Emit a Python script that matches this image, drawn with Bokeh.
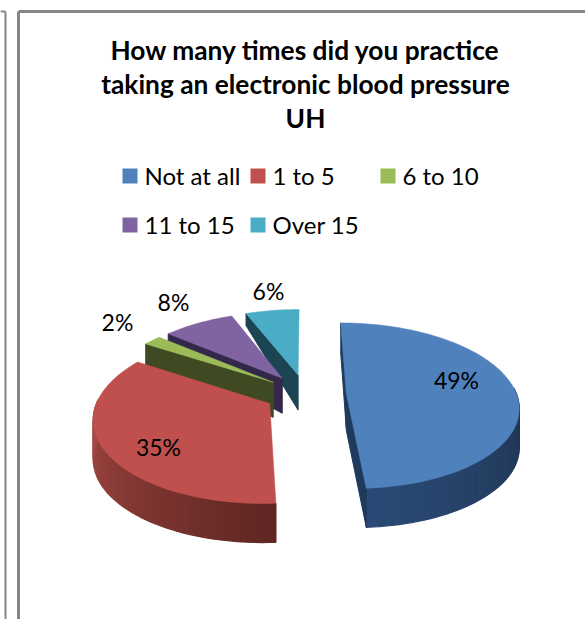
import math
from bokeh.plotting import figure
from bokeh.embed import file_html
from bokeh.resources import INLINE
from bokeh.core.properties import value

title_lines = ["How many times did you practice", "taking an electronic blood pressure", "UH"]
categories = ["Not at all", "1 to 5", "6 to 10", "11 to 15", "Over 15"]
shares = [49, 35, 2, 8, 6]
labels = ["49%", "35%", "2%", "8%", "6%"]
top_colors = ["#4F81BD", "#C0504D", "#9BBB59", "#8064A2", "#4BACC6"]
side_colors = ["#1E3A5C", "#7A2F2C", "#3F4A22", "#33284A", "#1C4553"]
rim_dark_ends = [("#2A4A75", "#1E324E"), ("#A94B44", "#5F2623"), ("#3F4A22", "#3F4A22"),
                 ("#33284A", "#33284A"), ("#1C4553", "#1C4553")]

# layout of the page
W, H = 585, 619
CX, CY, RX, RY, PERSP, EXPLODE, DEPTH = 305, 393, 170, 81, 0.155, 0.24, 37
legend_swatch_x = [122, 250, 380, 122, 250]
legend_y = [176, 176, 176, 225, 225]
label_xy = [(456, 380), (158, 447), (117, 322), (173, 302), (268, 291)]
start_rim_depth = [31, None, 22, 18, 12]

p = figure(width=W, height=H, x_range=(0, W), y_range=(H, 0), toolbar_location=None,
           output_backend="svg", min_border=0, outline_line_color=None,
           background_fill_color="white", border_fill_color="white")
p.axis.visible = False
p.grid.visible = False


def proj(theta, r, mid):
    X = EXPLODE * math.sin(mid) + r * math.sin(theta)
    Y = -EXPLODE * math.cos(mid) - r * math.cos(theta)
    s = 1 / (1 - PERSP * Y)
    return CX + RX * X * s, CY + RY * Y * s


def mix(c1, c2, t):
    a = [int(c1[i:i + 2], 16) for i in (1, 3, 5)]
    b = [int(c2[i:i + 2], 16) for i in (1, 3, 5)]
    return "#%02x%02x%02x" % tuple(int(round(u + (v - u) * t)) for u, v in zip(a, b))


# slice angles from the shares, clockwise from 12 o'clock
total = sum(shares)
bounds = [0]
for v in shares:
    bounds.append(bounds[-1] + v / total * 2 * math.pi)

for i in [4, 3, 2, 0, 1]:
    a0, a1 = bounds[i], bounds[i + 1]
    mid = (a0 + a1) / 2
    apex = proj(0, 0, mid)
    n = max(8, int((a1 - a0) * 30))
    thetas = [a0 + (a1 - a0) * j / n for j in range(n + 1)]
    rim = [proj(t, 1, mid) for t in thetas]

    # rim wall, shaded along its length
    if i < 2:
        vis = [j for j in range(n) if math.cos((thetas[j] + thetas[j + 1]) / 2) < 0.05]
        lo, hi = vis[0], vis[-1]
        for j in vis:
            xa, ya = rim[j]
            xb, yb = rim[min(j + 1, n)]
            t = (j - lo) / max(1, hi - lo)
            c = mix(rim_dark_ends[i][1], rim_dark_ends[i][0], t)
            p.patch([xa, xb, xb, xa], [ya, yb, yb + DEPTH + 2, ya + DEPTH + 2],
                    fill_color=c, line_color=c, line_width=1.2)

    # flat walls along the radial edges
    if start_rim_depth[i] is not None:
        rx, ry = rim[0]
        p.patch([rx, apex[0], apex[0], rx],
                [ry, apex[1], apex[1] + DEPTH - 2, ry + start_rim_depth[i]],
                fill_color=side_colors[i], line_color=side_colors[i], line_width=1)
    if i == 0:
        ex, ey = rim[-1]
        p.patch([apex[0], ex, ex, apex[0]],
                [apex[1], ey, ey + DEPTH + 2, apex[1] + DEPTH],
                fill_color=side_colors[i], line_color=side_colors[i], line_width=1)

    # top face
    px = [apex[0]] + [q[0] for q in rim]
    py = [apex[1]] + [q[1] for q in rim]
    p.patch(px, py, fill_color=top_colors[i], line_color=top_colors[i], line_width=0.5)

# frame lines
frame = "#868686"
p.line([18, 18], [H, 11], line_color=frame, line_width=3)
p.line([18, W], [11, 11], line_color=frame, line_width=3)
p.line([5, 5], [11, H], line_color=frame, line_width=2)
p.line([0, 5], [11, 11], line_color=frame, line_width=2)

# title
p.text([305] * 3, [49, 83, 117], text=title_lines, text_font=value("Lato"),
       text_font_style="bold", text_font_size="26.3px", text_align="center",
       text_baseline="middle", text_color="#000000")

# legend
p.quad(left=legend_swatch_x, right=[x + 15 for x in legend_swatch_x],
       top=[y - 8 for y in legend_y], bottom=[y + 7 for y in legend_y],
       fill_color=top_colors, line_color=None)
p.text([x + 22 for x in legend_swatch_x], [y - 1 for y in legend_y], text=categories,
       text_font=value("Lato"), text_font_size="24px", text_align="left",
       text_baseline="middle", text_color="#000000")

# data labels
p.text([q[0] for q in label_xy], [q[1] - 1 for q in label_xy], text=labels, text_font=value("Lato"),
       text_font_size="23px", text_align="center", text_baseline="middle", text_color="#000000")

open("out.html", "w").write(file_html(p, INLINE))
